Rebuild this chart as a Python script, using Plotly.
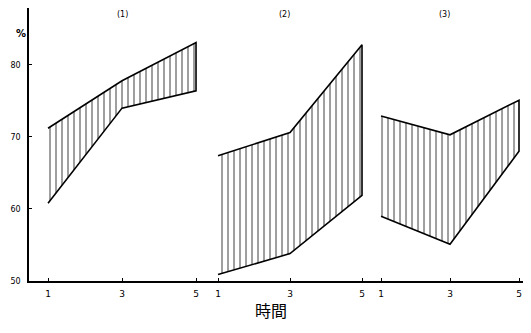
import plotly.graph_objects as go

# Data
time_points = [1, 3, 5]
panel_names = ["(1)", "(2)", "(3)"]
upper_values = [
    [71.2, 77.8, 83.1],
    [67.4, 70.6, 82.8],
    [72.9, 70.3, 75.1],
]
lower_values = [
    [60.8, 74.0, 76.4],
    [50.9, 53.8, 61.9],
    [59.0, 55.1, 68.0],
]
y_tick_values = [50, 60, 70, 80]
x_tick_labels = ["1", "3", "5"]
x_title = "時間"

# layout only: each panel has its own x axis, side by side
axis_ids = ["x", "x2", "x3"]
axis_domains = [[0.0, 0.3546], [0.3546, 0.6853], [0.6853, 1.0]]
axis_ranges = [[0.486, 5.297], [0.694, 5.306], [0.768, 5.348]]
title_shift = [0.0, -0.15, -0.17]

fig = go.Figure()
for i, (name, up, lo) in enumerate(zip(panel_names, upper_values, lower_values)):
    xs = list(time_points)
    fig.add_trace(go.Scatter(
        x=xs + xs[::-1],
        y=up + lo[::-1],
        xaxis=axis_ids[i], yaxis="y",
        mode="lines",
        fill="toself",
        fillcolor="white",
        fillpattern=dict(shape="|", size=6, solidity=0.25,
                         fgcolor="black", bgcolor="white"),
        line=dict(color="black", width=1.6),
        showlegend=False,
        hoverinfo="skip",
        cliponaxis=False,
    ))
    fig.add_annotation(x=xs[1] + title_shift[i], y=1.0, xref=axis_ids[i], yref="paper",
                       text=name, showarrow=False, yanchor="top",
                       font=dict(size=8, color="black", family="DejaVu Sans"))

fig.add_annotation(x=-0.03, y=0.934, xref="paper", yref="paper", text="<b>%</b>",
                   showarrow=False, font=dict(size=10, color="black", family="DejaVu Sans"))
fig.add_annotation(x=0.482, y=-0.108, xref="paper", yref="paper", text=x_title,
                   showarrow=False, yanchor="middle",
                   font=dict(size=16, color="black", family="Noto Sans CJK JP"))

# page body has an 8px margin, so the figure is sized to fit the window
fig.update_layout(
    width=523, height=317,
    margin=dict(l=21, r=0, t=0, b=44),
    paper_bgcolor="white", plot_bgcolor="white",
    font=dict(family="DejaVu Sans", color="black"),
)
xaxis_common = dict(
    automargin=False,
    tickmode="array", tickvals=time_points, ticktext=x_tick_labels,
    ticklabeloverflow="allow",
    ticklabelstandoff=3,
    showgrid=False, zeroline=False,
    showline=True, linecolor="black", linewidth=2,
    ticks="inside", ticklen=3, tickcolor="black",
    tickfont=dict(size=9, family="DejaVu Sans", color="black"),
    anchor="y",
)
fig.update_layout(
    xaxis=dict(domain=axis_domains[0], range=axis_ranges[0], **xaxis_common),
    xaxis2=dict(domain=axis_domains[1], range=axis_ranges[1], **xaxis_common),
    xaxis3=dict(domain=axis_domains[2], range=axis_ranges[2], **xaxis_common),
    yaxis=dict(
        range=[50, 87.9],
        automargin=False,
        tickmode="array", tickvals=y_tick_values,
        ticklabelstandoff=5,
        showgrid=False, zeroline=False,
        showline=True, linecolor="black", linewidth=1.6,
        ticks="inside", ticklen=3, tickcolor="black",
        tickfont=dict(size=8, family="DejaVu Sans", color="black"),
    ),
)

fig.write_html("out.html")
